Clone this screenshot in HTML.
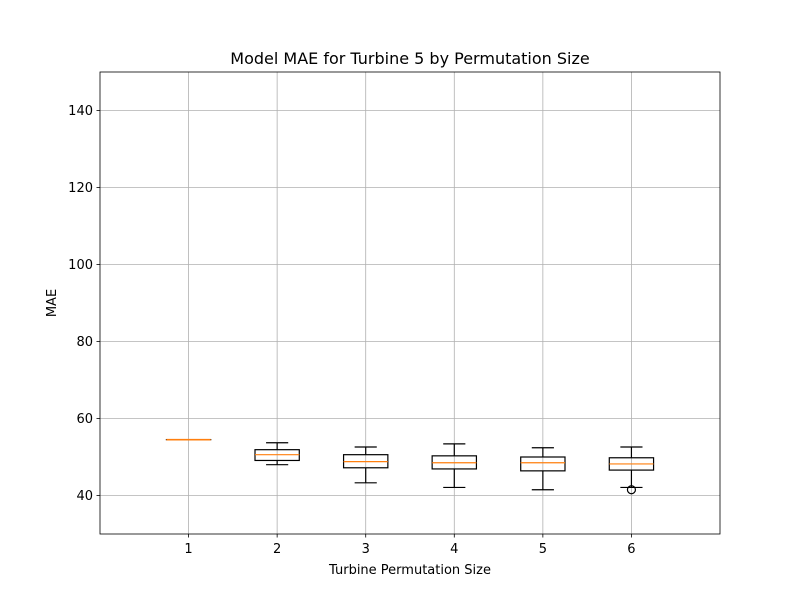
<!DOCTYPE html>
<html><head><meta charset="utf-8"><style>
body{margin:0;background:#fff;}
svg text{font-family:"DejaVu Sans","Liberation Sans",sans-serif;}
</style></head><body>
<svg id="chart" width="800" height="600" xmlns="http://www.w3.org/2000/svg"></svg>
<script>
const categories=[1,2,3,4,5,6];
const whiskerLow=[54.5,48.0,43.3,42.1,41.5,42.1];
const q1=[54.5,49.1,47.2,46.9,46.4,46.6];
const medians=[54.5,50.6,48.8,48.5,48.5,48.2];
const q3=[54.5,51.9,50.6,50.3,50.0,49.8];
const whiskerHigh=[54.5,53.7,52.6,53.4,52.4,52.6];
const fliers=[[],[],[],[],[],[41.5]];
const yTicks=[40,60,80,100,120,140];
const xTicks=[1,2,3,4,5,6];

const L=100,R=720,T=72,B=534,xmin=0,xmax=7,ymin=30,ymax=150;
const sx=v=>L+(v-xmin)/(xmax-xmin)*(R-L);
const sy=v=>B-(v-ymin)/(ymax-ymin)*(B-T);
const svg=document.getElementById('chart');
const NS='http://www.w3.org/2000/svg';
function el(tag,attrs,parent){const e=document.createElementNS(NS,tag);for(const k in attrs)e.setAttribute(k,attrs[k]);(parent||svg).appendChild(e);return e;}

yTicks.forEach(v=>{
  const g=el('line',{x1:L,x2:R,y1:sy(v),y2:sy(v),stroke:'#b0b0b0','stroke-width':0.8});
  
  
  el('line',{x1:L-3.5,x2:L,y1:sy(v),y2:sy(v),stroke:'#000','stroke-width':0.8});
  const t=el('text',{x:L-7,y:sy(v)+4.5,'text-anchor':'end','font-size':13});
  t.textContent=v;
  
  
});
xTicks.forEach(v=>{
  const g=el('line',{x1:sx(v),x2:sx(v),y1:T,y2:B,stroke:'#b0b0b0','stroke-width':0.8});
  
  
  el('line',{x1:sx(v),x2:sx(v),y1:B,y2:B+3.5,stroke:'#000','stroke-width':0.8});
  const t=el('text',{x:sx(v),y:B+19,'text-anchor':'middle','font-size':13});
  t.textContent=v;
  
  
});

categories.forEach((c,i)=>{
  const g=el('g',{});
  
  
  const x=sx(c),hw=(sx(0.25)-sx(0)),cw=(sx(0.125)-sx(0));
  const st={stroke:'#000','stroke-width':1.2,fill:'none'};
  el('line',Object.assign({x1:x,x2:x,y1:sy(q1[i]),y2:sy(whiskerLow[i])},st),g);
  el('line',Object.assign({x1:x,x2:x,y1:sy(q3[i]),y2:sy(whiskerHigh[i])},st),g);
  el('line',Object.assign({x1:x-cw,x2:x+cw,y1:sy(whiskerLow[i]),y2:sy(whiskerLow[i])},st),g);
  el('line',Object.assign({x1:x-cw,x2:x+cw,y1:sy(whiskerHigh[i]),y2:sy(whiskerHigh[i])},st),g);
  el('rect',Object.assign({x:x-hw,y:sy(q3[i]),width:2*hw,height:Math.max(0.01,sy(q1[i])-sy(q3[i]))},st),g);
  el('line',{x1:x-hw,x2:x+hw,y1:sy(medians[i]),y2:sy(medians[i]),stroke:'#ff7f0e','stroke-width':(q3[i]===q1[i]?1.6:1.2)},g);
  fliers[i].forEach(f=>{
    const o=el('circle',{cx:x,cy:sy(f),r:4,fill:'none',stroke:'#000','stroke-width':1.2},g);
    
    
  });
});

const fr=el('rect',{x:L,y:T,width:R-L,height:B-T,fill:'none',stroke:'#000','stroke-width':0.8});



const title=el('text',{x:(L+R)/2,y:64,'text-anchor':'middle','font-size':16});
title.textContent='Model MAE for Turbine 5 by Permutation Size';


const xl=el('text',{x:(L+R)/2,y:574,'text-anchor':'middle','font-size':13});
xl.textContent='Turbine Permutation Size';


const yl=el('text',{x:0,y:0,'text-anchor':'middle','font-size':13,transform:'translate(56,303) rotate(-90)'});
yl.textContent='MAE';


</script>
</body></html>
